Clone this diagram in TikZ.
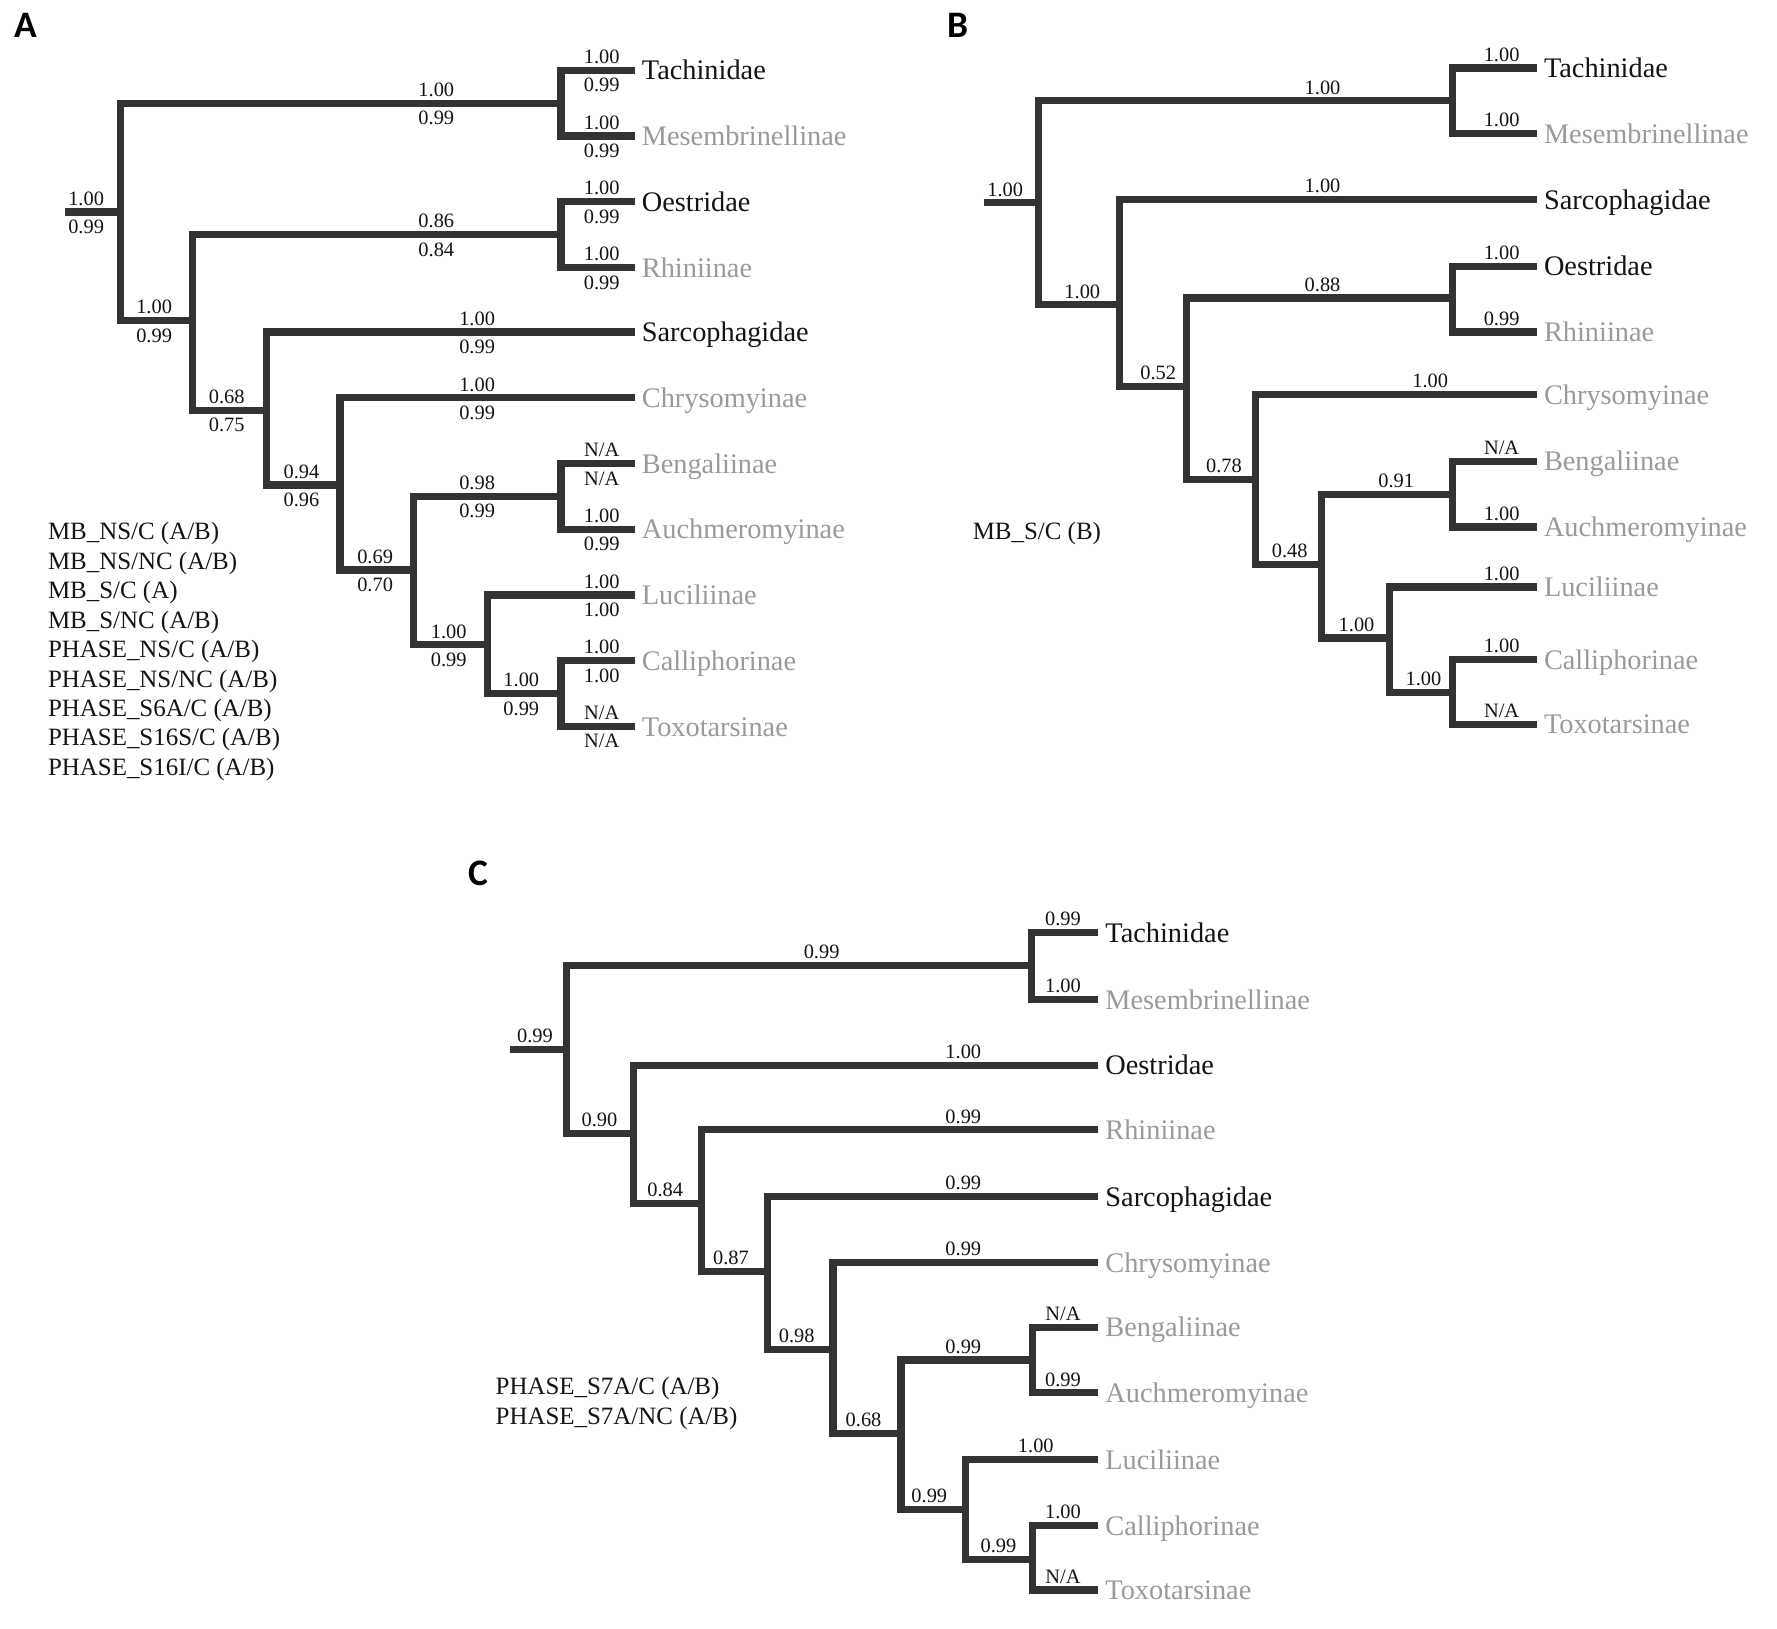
\documentclass[tikz,border=0pt]{standalone}
\usepackage{fontspec}
\setmainfont{Liberation Serif}
\newfontfamily\panelfont{Carlito}
\definecolor{brc}{HTML}{333333}
\definecolor{txk}{HTML}{141414}
\definecolor{txg}{HTML}{9A9A9A}
\begin{document}
\begin{tikzpicture}[x=0.5pt,y=-0.5pt,
  br/.style={draw=brc,line width=3.15pt,line join=miter},
  tk/.style={anchor=base west,inner sep=0pt,xshift=3pt,yshift=-4.25pt,text=txk,font=\fontsize{12.5}{15}\selectfont},
  tg/.style={tk,text=txg},
  num/.style={anchor=base,inner sep=0pt,text=txk,font=\fontsize{9}{11}\selectfont},
  up/.style={num,yshift=3pt},
  dn/.style={num,yshift=-9.5pt},
  lg/.style={anchor=base west,inner sep=0pt,text=txk,font=\fontsize{11}{13}\selectfont},
  pl/.style={anchor=base west,inner sep=0pt,text=black,font=\panelfont\bfseries\fontsize{16.5}{18}\selectfont}]
\fill[white] (0,0) rectangle (1568,1437);
\useasboundingbox (0,0) rectangle (1568,1437);

%================ Panel A ================
\node[pl] (pA) at (12,33.5) {A};
\coordinate (A0) at (57,187);
\coordinate (Ar) at (106,187);
\coordinate (At) at (495,91);
\coordinate (An1) at (170,283);
\coordinate (Ao) at (495,207);
\coordinate (An2) at (235,362);
\coordinate (An3) at (300,428);
\coordinate (An4) at (365,503);
\coordinate (Aba) at (495,438);
\coordinate (An5) at (430,569);
\coordinate (Act) at (495,612);
\coordinate (Al1) at (560,62);
\coordinate (Al2) at (560,120);
\coordinate (Al3) at (560,178);
\coordinate (Al4) at (560,236);
\coordinate (Al5) at (560,293);
\coordinate (Al6) at (560,351);
\coordinate (Al7) at (560,409);
\coordinate (Al8) at (560,467);
\coordinate (Al9) at (560,525);
\coordinate (Al10) at (560,583);
\coordinate (Al11) at (560,641);

\draw[br] (A0) -- (Ar);
\draw[br] (Ar) |- (At);  \draw[br] (Ar) |- (An1);
\draw[br] (At) |- (Al1); \draw[br] (At) |- (Al2);
\draw[br] (An1) |- (Ao); \draw[br] (An1) |- (An2);
\draw[br] (Ao) |- (Al3); \draw[br] (Ao) |- (Al4);
\draw[br] (An2) |- (Al5); \draw[br] (An2) |- (An3);
\draw[br] (An3) |- (Al6); \draw[br] (An3) |- (An4);
\draw[br] (An4) |- (Aba); \draw[br] (An4) |- (An5);
\draw[br] (Aba) |- (Al7); \draw[br] (Aba) |- (Al8);
\draw[br] (An5) |- (Al9); \draw[br] (An5) |- (Act);
\draw[br] (Act) |- (Al10); \draw[br] (Act) |- (Al11);

\node[tk] (tA1) at (Al1) {Tachinidae};
\node[tg] (tA2) at (Al2) {Mesembrinellinae};
\node[tk] (tA3) at (Al3) {Oestridae};
\node[tg] (tA4) at (Al4) {Rhiniinae};
\node[tk] (tA5) at (Al5) {Sarcophagidae};
\node[tg] (tA6) at (Al6) {Chrysomyinae};
\node[tg] (tA7) at (Al7) {Bengaliinae};
\node[tg] (tA8) at (Al8) {Auchmeromyinae};
\node[tg] (tA9) at (Al9) {Luciliinae};
\node[tg] (tA10) at (Al10) {Calliphorinae};
\node[tg] (tA11) at (Al11) {Toxotarsinae};

\node[up] (a1u) at (76,187) {1.00};   \node[dn] (a1d) at (76,187) {0.99};
\node[up] (a2u) at (385,91) {1.00};   \node[dn] (a2d) at (385,91) {0.99};
\node[up] (a3u) at (531,62) {1.00};   \node[dn] (a3d) at (531,62) {0.99};
\node[up] (a4u) at (531,120) {1.00};  \node[dn] (a4d) at (531,120) {0.99};
\node[up] (a5u) at (136,283) {1.00};  \node[dn] (a5d) at (136,283) {0.99};
\node[up] (a6u) at (385,207) {0.86};  \node[dn] (a6d) at (385,207) {0.84};
\node[up] (a7u) at (531,178) {1.00};  \node[dn] (a7d) at (531,178) {0.99};
\node[up] (a8u) at (531,236) {1.00};  \node[dn] (a8d) at (531,236) {0.99};
\node[up] (a9u) at (200,362) {0.68};  \node[dn] (a9d) at (200,362) {0.75};
\node[up] (a10u) at (421,293) {1.00}; \node[dn] (a10d) at (421,293) {0.99};
\node[up] (a11u) at (266,428) {0.94}; \node[dn] (a11d) at (266,428) {0.96};
\node[up] (a12u) at (421,351) {1.00}; \node[dn] (a12d) at (421,351) {0.99};
\node[up] (a13u) at (331,503) {0.69}; \node[dn] (a13d) at (331,503) {0.70};
\node[up] (a14u) at (421,438) {0.98}; \node[dn] (a14d) at (421,438) {0.99};
\node[up] (a15u) at (531,409) {N/A};  \node[dn] (a15d) at (531,409) {N/A};
\node[up] (a16u) at (531,467) {1.00}; \node[dn] (a16d) at (531,467) {0.99};
\node[up] (a17u) at (396,569) {1.00}; \node[dn] (a17d) at (396,569) {0.99};
\node[up] (a18u) at (531,525) {1.00}; \node[dn] (a18d) at (531,525) {1.00};
\node[up] (a19u) at (460,612) {1.00}; \node[dn] (a19d) at (460,612) {0.99};
\node[up] (a20u) at (531,583) {1.00}; \node[dn] (a20d) at (531,583) {1.00};
\node[up] (a21u) at (531,641) {N/A};  \node[dn] (a21d) at (531,641) {N/A};

\node[lg] (lA1) at (42,476.4) {MB\_NS/C (A/B)};
\node[lg] (lA2) at (42,502.4) {MB\_NS/NC (A/B)};
\node[lg] (lA3) at (42,528.3) {MB\_S/C (A)};
\node[lg] (lA4) at (42,554.3) {MB\_S/NC (A/B)};
\node[lg] (lA5) at (42,580.2) {PHASE\_NS/C (A/B)};
\node[lg] (lA6) at (42,606.2) {PHASE\_NS/NC (A/B)};
\node[lg] (lA7) at (42,632.1) {PHASE\_S6A/C (A/B)};
\node[lg] (lA8) at (42,658.1) {PHASE\_S16S/C (A/B)};
\node[lg] (lA9) at (42,684) {PHASE\_S16I/C (A/B)};

%================ Panel B ================
\node[pl] (pB) at (836,33.5) {B};
\coordinate (B0) at (868,179);
\coordinate (Br) at (916,179);
\coordinate (Bt) at (1282,89);
\coordinate (Bn1) at (988,269);
\coordinate (Bn2) at (1047,341);
\coordinate (Bo) at (1282,263);
\coordinate (Bn3) at (1108,423);
\coordinate (Bn4) at (1166,498);
\coordinate (Bba) at (1282,436);
\coordinate (Bn5) at (1226,563);
\coordinate (Bct) at (1282,611);
\coordinate (Bl1) at (1356,60);
\coordinate (Bl2) at (1356,118);
\coordinate (Bl3) at (1356,176);
\coordinate (Bl4) at (1356,235);
\coordinate (Bl5) at (1356,293);
\coordinate (Bl6) at (1356,348);
\coordinate (Bl7) at (1356,407);
\coordinate (Bl8) at (1356,465);
\coordinate (Bl9) at (1356,518);
\coordinate (Bl10) at (1356,582);
\coordinate (Bl11) at (1356,639);

\draw[br] (B0) -- (Br);
\draw[br] (Br) |- (Bt);  \draw[br] (Br) |- (Bn1);
\draw[br] (Bt) |- (Bl1); \draw[br] (Bt) |- (Bl2);
\draw[br] (Bn1) |- (Bl3); \draw[br] (Bn1) |- (Bn2);
\draw[br] (Bn2) |- (Bo); \draw[br] (Bn2) |- (Bn3);
\draw[br] (Bo) |- (Bl4); \draw[br] (Bo) |- (Bl5);
\draw[br] (Bn3) |- (Bl6); \draw[br] (Bn3) |- (Bn4);
\draw[br] (Bn4) |- (Bba); \draw[br] (Bn4) |- (Bn5);
\draw[br] (Bba) |- (Bl7); \draw[br] (Bba) |- (Bl8);
\draw[br] (Bn5) |- (Bl9); \draw[br] (Bn5) |- (Bct);
\draw[br] (Bct) |- (Bl10); \draw[br] (Bct) |- (Bl11);

\node[tk] (tB1) at (Bl1) {Tachinidae};
\node[tg] (tB2) at (Bl2) {Mesembrinellinae};
\node[tk] (tB3) at (Bl3) {Sarcophagidae};
\node[tk] (tB4) at (Bl4) {Oestridae};
\node[tg] (tB5) at (Bl5) {Rhiniinae};
\node[tg] (tB6) at (Bl6) {Chrysomyinae};
\node[tg] (tB7) at (Bl7) {Bengaliinae};
\node[tg] (tB8) at (Bl8) {Auchmeromyinae};
\node[tg] (tB9) at (Bl9) {Luciliinae};
\node[tg] (tB10) at (Bl10) {Calliphorinae};
\node[tg] (tB11) at (Bl11) {Toxotarsinae};

\node[up] (b1) at (887,179) {1.00};
\node[up] (b2) at (1167,89) {1.00};
\node[up] (b3) at (1325,60) {1.00};
\node[up] (b4) at (1325,118) {1.00};
\node[up] (b5) at (955,269) {1.00};
\node[up] (b6) at (1167,176) {1.00};
\node[up] (b7) at (1022,341) {0.52};
\node[up] (b8) at (1167,263) {0.88};
\node[up] (b9) at (1325,235) {1.00};
\node[up] (b10) at (1325,293) {0.99};
\node[up] (b11) at (1080,423) {0.78};
\node[up] (b12) at (1262,348) {1.00};
\node[up] (b13) at (1138,498) {0.48};
\node[up] (b14) at (1232,436) {0.91};
\node[up] (b15) at (1325,407) {N/A};
\node[up] (b16) at (1325,465) {1.00};
\node[up] (b17) at (1197,563) {1.00};
\node[up] (b18) at (1325,518) {1.00};
\node[up] (b19) at (1256,611) {1.00};
\node[up] (b20) at (1325,582) {1.00};
\node[up] (b21) at (1325,639) {N/A};

\node[lg] (lB1) at (858,476) {MB\_S/C (B)};

%================ Panel C ================
\node[pl] (pC) at (413,781) {C};
\coordinate (C0) at (450,926);
\coordinate (Cr) at (500,926);
\coordinate (Ct) at (910,852);
\coordinate (Cn1) at (559,1000);
\coordinate (Cn2) at (619,1062);
\coordinate (Cn3) at (677,1122);
\coordinate (Cn4) at (735,1191);
\coordinate (Cn5) at (795,1265);
\coordinate (Cba) at (911,1200);
\coordinate (Cn6) at (852,1332);
\coordinate (Cct) at (911,1376);
\coordinate (Cl1) at (969,823);
\coordinate (Cl2) at (969,882);
\coordinate (Cl3) at (969,940);
\coordinate (Cl4) at (969,997);
\coordinate (Cl5) at (969,1056);
\coordinate (Cl6) at (969,1114);
\coordinate (Cl7) at (969,1171);
\coordinate (Cl8) at (969,1229);
\coordinate (Cl9) at (969,1288);
\coordinate (Cl10) at (969,1346);
\coordinate (Cl11) at (969,1403);

\draw[br] (C0) -- (Cr);
\draw[br] (Cr) |- (Ct);  \draw[br] (Cr) |- (Cn1);
\draw[br] (Ct) |- (Cl1); \draw[br] (Ct) |- (Cl2);
\draw[br] (Cn1) |- (Cl3); \draw[br] (Cn1) |- (Cn2);
\draw[br] (Cn2) |- (Cl4); \draw[br] (Cn2) |- (Cn3);
\draw[br] (Cn3) |- (Cl5); \draw[br] (Cn3) |- (Cn4);
\draw[br] (Cn4) |- (Cl6); \draw[br] (Cn4) |- (Cn5);
\draw[br] (Cn5) |- (Cba); \draw[br] (Cn5) |- (Cn6);
\draw[br] (Cba) |- (Cl7); \draw[br] (Cba) |- (Cl8);
\draw[br] (Cn6) |- (Cl9); \draw[br] (Cn6) |- (Cct);
\draw[br] (Cct) |- (Cl10); \draw[br] (Cct) |- (Cl11);

\node[tk] (tC1) at (Cl1) {Tachinidae};
\node[tg] (tC2) at (Cl2) {Mesembrinellinae};
\node[tk] (tC3) at (Cl3) {Oestridae};
\node[tg] (tC4) at (Cl4) {Rhiniinae};
\node[tk] (tC5) at (Cl5) {Sarcophagidae};
\node[tg] (tC6) at (Cl6) {Chrysomyinae};
\node[tg] (tC7) at (Cl7) {Bengaliinae};
\node[tg] (tC8) at (Cl8) {Auchmeromyinae};
\node[tg] (tC9) at (Cl9) {Luciliinae};
\node[tg] (tC10) at (Cl10) {Calliphorinae};
\node[tg] (tC11) at (Cl11) {Toxotarsinae};

\node[up] (c1) at (472,926) {0.99};
\node[up] (c2) at (725,852) {0.99};
\node[up] (c3) at (938,823) {0.99};
\node[up] (c4) at (938,882) {1.00};
\node[up] (c5) at (529,1000) {0.90};
\node[up] (c6) at (850,940) {1.00};
\node[up] (c7) at (587,1062) {0.84};
\node[up] (c8) at (850,997) {0.99};
\node[up] (c9) at (645,1122) {0.87};
\node[up] (c10) at (850,1056) {0.99};
\node[up] (c11) at (703,1191) {0.98};
\node[up] (c12) at (850,1114) {0.99};
\node[up] (c13) at (762,1265) {0.68};
\node[up] (c14) at (850,1200) {0.99};
\node[up] (c15) at (938,1171) {N/A};
\node[up] (c16) at (938,1229) {0.99};
\node[up] (c17) at (820,1332) {0.99};
\node[up] (c18) at (914,1288) {1.00};
\node[up] (c19) at (881,1376) {0.99};
\node[up] (c20) at (938,1346) {1.00};
\node[up] (c21) at (938,1403) {N/A};

\node[lg] (lC1) at (437,1230.5) {PHASE\_S7A/C (A/B)};
\node[lg] (lC2) at (437,1256.5) {PHASE\_S7A/NC (A/B)};
\end{tikzpicture}
\end{document}
